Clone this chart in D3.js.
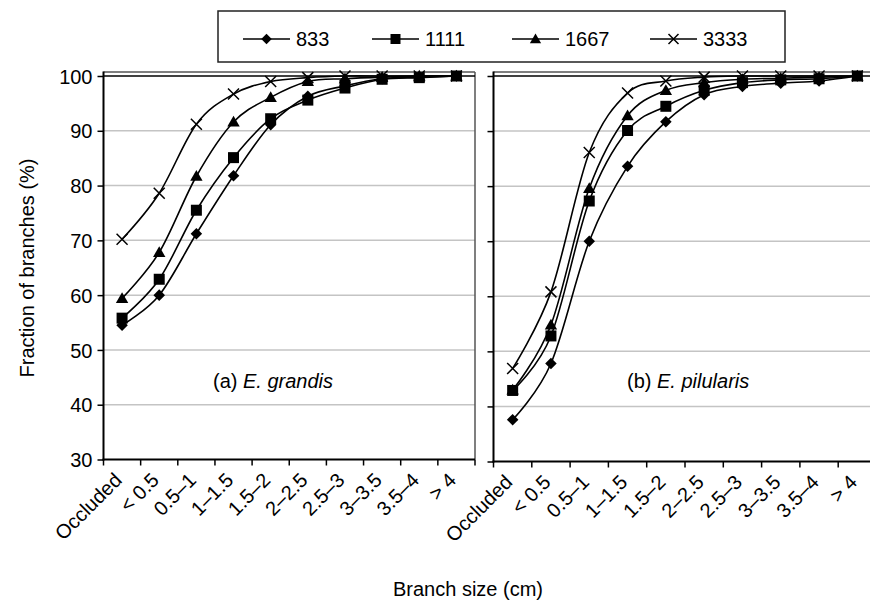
<!DOCTYPE html>
<html>
<head>
<meta charset="utf-8">
<script src="https://cdn.jsdelivr.net/npm/d3@7/dist/d3.min.js"></script>
<style>
  html, body { margin: 0; padding: 0; background: #fff; }
  svg { display: block; font-family: "Liberation Sans", Arial, sans-serif; }
</style>
</head>
<body>
<svg id="chart" width="870" height="603"></svg>
<script>
// ---- data ----
const categories = ["Occluded", "< 0.5", "0.5\u20131", "1\u20131.5", "1.5\u20132", "2\u20132.5", "2.5\u20133", "3\u20133.5", "3.5\u20134", "> 4"];
const seriesNames = ["833", "1111", "1667", "3333"];
const yTicks = [30, 40, 50, 60, 70, 80, 90, 100];

const grandis833  = [54.5, 60.0, 71.2, 81.8, 91.1, 96.3, 98.2, 99.5, 99.8, 100];
const grandis1111 = [55.8, 62.9, 75.5, 85.1, 92.2, 95.6, 97.8, 99.4, 99.7, 100];
const grandis1667 = [59.4, 67.8, 81.7, 91.6, 96.1, 99.0, 99.5, 99.8, 100, 100];
const grandis3333 = [70.2, 78.6, 91.2, 96.7, 99.0, 99.7, 100, 100, 100, 100];

const pilularis833  = [37.6, 47.8, 70.0, 83.6, 91.7, 96.6, 98.1, 98.7, 99.1, 100];
const pilularis1111 = [42.9, 52.8, 77.3, 90.1, 94.5, 97.4, 98.8, 99.3, 99.5, 100];
const pilularis1667 = [43.0, 54.8, 79.6, 92.8, 97.4, 98.8, 99.4, 99.6, 99.8, 100];
const pilularis3333 = [46.9, 60.8, 86.1, 96.9, 99.1, 99.8, 100, 100, 100, 100];

const panelLabels = [["(a) ", "E. grandis"], ["(b) ", "E. pilularis"]];

// ---- drawing ----
const svg = d3.select("#chart");
const FONT = 20;
const markerTypes = ["diamond", "square", "triangle", "cross"];

function drawMarker(g, type, x, y, s) {
  if (type === "diamond") {
    g.append("path").attr("d", d3.symbol(d3.symbolSquare, s * s * 0.55)())
      .attr("transform", `translate(${x},${y}) rotate(45)`).attr("fill", "#000");
  } else if (type === "square") {
    g.append("path").attr("d", d3.symbol(d3.symbolSquare, s * s)())
      .attr("transform", `translate(${x},${y})`).attr("fill", "#000");
  } else if (type === "triangle") {
    g.append("path").attr("d", d3.symbol(d3.symbolTriangle, s * s * 0.55)())
      .attr("transform", `translate(${x},${y + 1})`).attr("fill", "#000");
  } else {
    const h = s / 2;
    g.append("path").attr("d", `M${x - h},${y - h}L${x + h},${y + h}M${x - h},${y + h}L${x + h},${y - h}`)
      .attr("stroke", "#000").attr("stroke-width", 1.5).attr("fill", "none");
  }
}

const panels = [
  { x0: 103.5, x1: 475, yTop: 76, yBot: 459.5, data: [grandis833, grandis1111, grandis1667, grandis3333], labels: true, label: panelLabels[0], lx: 213 },
  { x0: 493.5, x1: 876.5, yTop: 76, yBot: 461.5, data: [pilularis833, pilularis1111, pilularis1667, pilularis3333], labels: false, label: panelLabels[1], lx: 627 }
];

panels.forEach(p => {
  const g = svg.append("g");
  const x = d3.scaleBand().domain(categories).range([p.x0, p.x1]);
  const y = d3.scaleLinear().domain([30, 100]).range([p.yBot, p.yTop]);
  const cx = c => x(c) + x.bandwidth() / 2;

  // gridlines
  g.selectAll(".grid").data(yTicks.filter(t => t > 30 && t < 100)).enter()
    .append("line").attr("x1", p.x0).attr("x2", p.x1)
    .attr("y1", d => y(d)).attr("y2", d => y(d))
    .attr("stroke", "#c4c4c4").attr("stroke-width", 1.5);

  // top border and right border (dark gray)
  g.append("line").attr("x1", p.x0).attr("x2", p.x1).attr("y1", p.yTop - 4).attr("y2", p.yTop - 4)
    .attr("stroke", "#555").attr("stroke-width", 1.5);
  g.append("line").attr("x1", p.x1).attr("x2", p.x1).attr("y1", p.yTop - 4).attr("y2", p.yBot)
    .attr("stroke", "#555").attr("stroke-width", 1.5);
  // black line at 100
  g.append("line").attr("x1", p.x0).attr("x2", p.x1).attr("y1", y(100)).attr("y2", y(100))
    .attr("stroke", "#000").attr("stroke-width", 1.5);

  // y axis
  const yAxis = d3.axisLeft(y).tickValues(yTicks).tickSize(6).tickSizeOuter(0)
    .tickFormat(p.labels ? d3.format("d") : () => "");
  const ya = g.append("g").attr("transform", `translate(${p.x0},0)`).call(yAxis);
  ya.select(".domain").remove();
  ya.selectAll(".tick line").attr("stroke", "#000").attr("stroke-width", 1.5);
  ya.selectAll(".tick text").attr("font-size", FONT).attr("fill", "#000")
    .attr("font-family", "Liberation Sans, Arial, sans-serif").attr("x", -11).attr("dy", "0.36em");
  g.append("line").attr("x1", p.x0).attr("x2", p.x0).attr("y1", p.yTop - 4.5).attr("y2", p.yBot + 1)
    .attr("stroke", "#000").attr("stroke-width", 2);

  // x axis
  g.append("line").attr("x1", p.x0 - 1).attr("x2", p.x1).attr("y1", p.yBot).attr("y2", p.yBot)
    .attr("stroke", "#000").attr("stroke-width", 2.2);
  const bounds = categories.map(c => x(c)).concat([p.x1]);
  g.selectAll(".xt").data(bounds).enter().append("line")
    .attr("x1", d => d).attr("x2", d => d).attr("y1", p.yBot).attr("y2", p.yBot + 6)
    .attr("stroke", "#000").attr("stroke-width", 1.5);
  g.selectAll(".xl").data(categories).enter().append("text")
    .attr("transform", d => `translate(${cx(d) + 1},${p.yBot + 22}) rotate(-45)`)
    .attr("text-anchor", "end")
    .attr("font-size", FONT).attr("fill", "#000").text(d => d);

  // series
  const line = d3.line().x((d, i) => cx(categories[i])).y(d => y(d)).curve(d3.curveCatmullRom.alpha(0));
  p.data.forEach((vals, si) => {
    g.append("path").attr("d", line(vals)).attr("fill", "none")
      .attr("stroke", "#000").attr("stroke-width", 1.6);
    vals.forEach((v, i) => drawMarker(g, markerTypes[si], cx(categories[i]), y(v), 11));
  });

  // panel label
  const t = g.append("text").attr("x", p.lx).attr("y", 388).attr("font-size", FONT).attr("fill", "#000");
  t.append("tspan").text(p.label[0]);
  t.append("tspan").attr("font-style", "italic").text(p.label[1]);
});

// axis titles
svg.append("text").attr("transform", "translate(34,268) rotate(-90)")
  .attr("text-anchor", "middle").attr("font-size", FONT).attr("fill", "#000")
  .text("Fraction of branches (%)");
svg.append("text").attr("x", 468).attr("y", 596)
  .attr("text-anchor", "middle").attr("font-size", FONT).attr("fill", "#000")
  .text("Branch size (cm)");

// legend
const leg = svg.append("g");
leg.append("rect").attr("x", 218).attr("y", 11).attr("width", 567).attr("height", 51)
  .attr("fill", "#fff").attr("stroke", "#222").attr("stroke-width", 1.5);
const legX = [243, 372, 512, 650];
seriesNames.forEach((name, i) => {
  const lx = legX[i], ly = 39;
  leg.append("line").attr("x1", lx).attr("x2", lx + 47).attr("y1", ly).attr("y2", ly)
    .attr("stroke", "#000").attr("stroke-width", 1.5);
  drawMarker(leg, markerTypes[i], lx + 23.5, ly, 10);
  leg.append("text").attr("x", lx + 53).attr("y", ly).attr("dy", "0.36em")
    .attr("font-size", FONT).attr("fill", "#000").text(name);
});
</script>
</body>
</html>
